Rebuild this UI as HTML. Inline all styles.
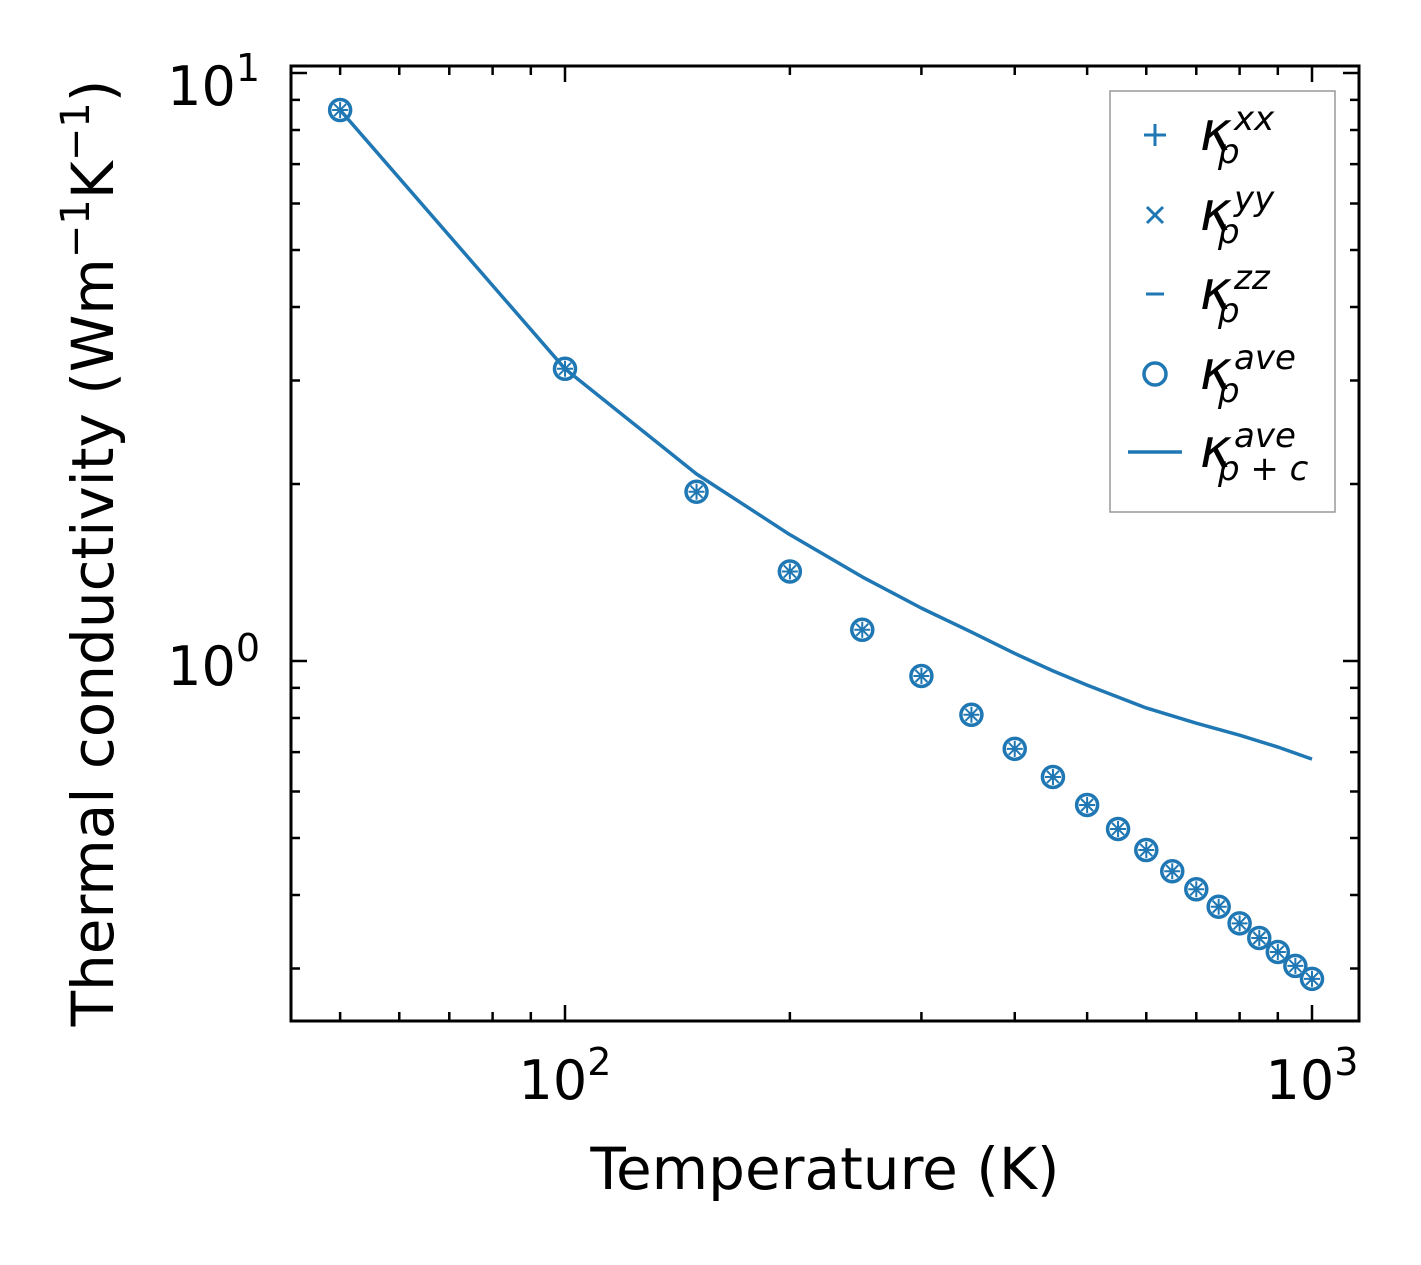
<!DOCTYPE html>
<html><head><meta charset="utf-8"><style>
html,body{margin:0;padding:0;background:#fff}
svg text{font-family:"DejaVu Sans","Liberation Sans",sans-serif}
</style></head><body>
<svg id="chart" width="1421" height="1260" viewBox="0 0 1421 1260" xmlns="http://www.w3.org/2000/svg">
<rect width="1421" height="1260" fill="#fff"/>
<g id="ticks"></g>
<g id="marks"></g>
<rect x="291" y="66" width="1068" height="955" fill="none" stroke="#000" stroke-width="3"/>
<g font-size="54" text-anchor="middle">
<text x="565" y="1099">10<tspan font-size="38" dy="-24">2</tspan></text>
<text x="1312" y="1099">10<tspan font-size="38" dy="-24">3</tspan></text>
</g>
<g font-size="54" text-anchor="end">
<text x="260" y="105">10<tspan font-size="38" dy="-24">1</tspan></text>
<text x="260" y="685">10<tspan font-size="38" dy="-24">0</tspan></text>
</g>
<text x="825" y="1189" font-size="58" text-anchor="middle">Temperature (K)</text>
<text transform="translate(113,553) rotate(-90)" font-size="58" text-anchor="middle">Thermal conductivity (Wm<tspan font-size="40" dy="-24">−1</tspan><tspan dy="24">K</tspan><tspan font-size="40" dy="-24">−1</tspan><tspan dy="24">)</tspan></text>
<g>
<rect x="1110" y="91" width="225" height="421" fill="#fff" stroke="#999" stroke-width="1.5"/>
<g stroke="#1f77b4" stroke-width="3" fill="none">
<path d="M1144 135h22M1155 124v22"/>
<path d="M1147 207l16 16M1163 207l-16 16"/>
<path d="M1146 294h18"/>
<circle cx="1155" cy="374" r="11" stroke-width="3.5"/>
<path d="M1128 452h54" stroke-width="3.5"/>
</g>
<g font-style="italic">
<g><text x="1200" y="150" font-size="54">κ</text><text x="1234" y="130" font-size="34">xx</text><text x="1218" y="163" font-size="34">p</text></g>
<g><text x="1200" y="230" font-size="54">κ</text><text x="1234" y="210" font-size="34">yy</text><text x="1218" y="243" font-size="34">p</text></g>
<g><text x="1200" y="309" font-size="54">κ</text><text x="1234" y="289" font-size="34">zz</text><text x="1218" y="322" font-size="34">p</text></g>
<g><text x="1200" y="389" font-size="54">κ</text><text x="1234" y="369" font-size="34">ave</text><text x="1218" y="402" font-size="34">p</text></g>
<g><text x="1200" y="467" font-size="54">κ</text><text x="1234" y="447" font-size="34">ave</text><text x="1218" y="480" font-size="34">p + c</text></g>
</g>
</g>
</svg>
<script>
const temps = [50,100,150,200,250,300,350,400,450,500,550,600,650,700,750,800,850,900,950,1000];
const kappaAve = [8.65,3.14,1.94,1.42,1.13,0.943,0.81,0.709,0.635,0.569,0.518,0.477,0.439,0.409,0.382,0.358,0.338,0.320,0.303,0.288];
const lineTemps = [50,100,150,200,250,300,350,400,450,500,600,700,800,900,1000];
const kappaPC = [8.65,3.14,2.08,1.64,1.39,1.23,1.12,1.03,0.962,0.91,0.832,0.784,0.748,0.714,0.681];
const xMajor = [100,1000];
const xMinor = [50,60,70,80,90,200,300,400,500,600,700,800,900];
const yMajor = [1,10];
const yMinor = [0.3,0.4,0.5,0.6,0.7,0.8,0.9,2,3,4,5,6,7,8,9];

const X = t => 565 + (Math.log10(t) - 2) * 747;
const Y = k => 661 - Math.log10(k) * 588;
const NS = 'http://www.w3.org/2000/svg';
function mk(tag, attrs, parent){const e=document.createElementNS(NS,tag);for(const a in attrs)e.setAttribute(a,attrs[a]);parent.appendChild(e);return e;}
const ticks = document.getElementById('ticks');
const marks = document.getElementById('marks');
function tick(d, name){const e=mk('path',{d:d,stroke:'#000','stroke-width':2.5,fill:'none'},ticks);

}
xMajor.forEach(t=>{const x=X(t);tick(`M${x} 1021v-16M${x} 66v16`,'x-major-tick');});
xMinor.forEach(t=>{const x=X(t);if(x>291&&x<1359)tick(`M${x} 1021v-9M${x} 66v9`,'x-minor-tick');});
yMajor.forEach(k=>{const y=Y(k);tick(`M291 ${y}h16M1359 ${y}h-16`,'y-major-tick');});
yMinor.forEach(k=>{const y=Y(k);if(y>66&&y<1021)tick(`M291 ${y}h9M1359 ${y}h-9`,'y-minor-tick');});

const line = mk('polyline',{points:lineTemps.map((t,i)=>X(t)+','+Y(kappaPC[i])).join(' '),fill:'none',stroke:'#1f77b4','stroke-width':3.5,'stroke-linejoin':'round'},marks);



temps.forEach((t,i)=>{
  const x=X(t), y=Y(kappaAve[i]);
  const g=mk('g',{stroke:'#1f77b4',fill:'none'},marks);
  
  
  mk('circle',{cx:x,cy:y,r:10.5,'stroke-width':3.5},g);
  mk('path',{d:`M${x-8} ${y}h16M${x} ${y-8}v16M${x-6} ${y-6}l12 12M${x+6} ${y-6}l-12 12`,'stroke-width':2},g);
});
</script>
</body></html>
